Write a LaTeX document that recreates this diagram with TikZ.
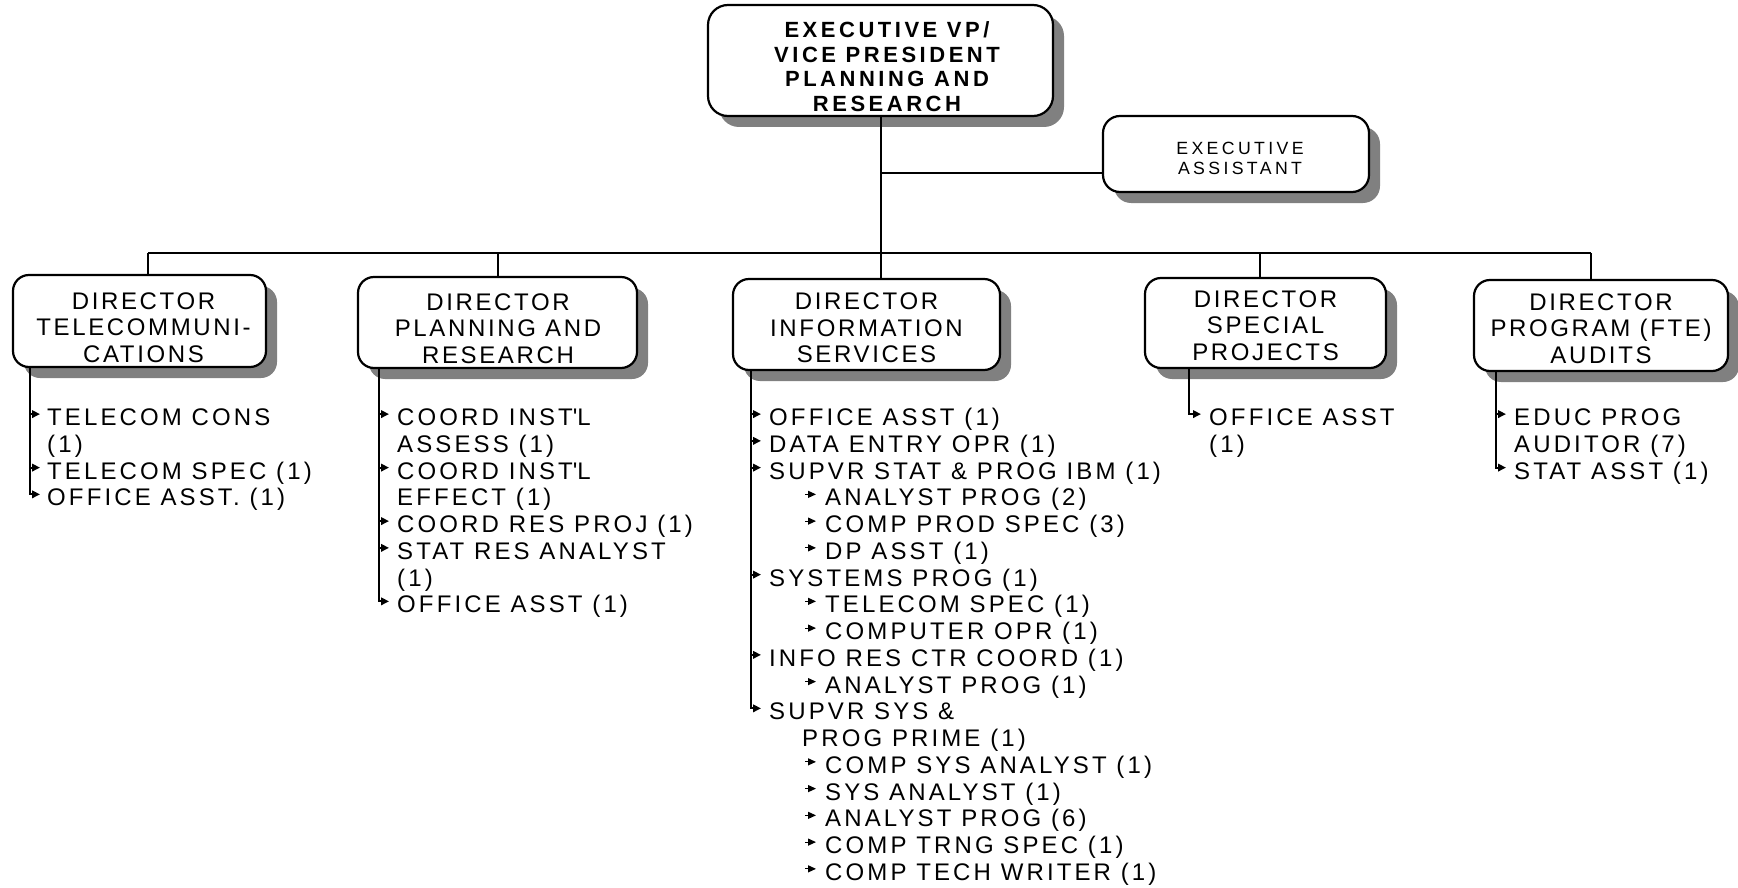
\documentclass[tikz,border=0pt]{standalone}
\usepackage{fontspec}
\setmainfont{Liberation Sans}
\newfontfamily\orgfont[LetterSpace=11]{Liberation Sans}
\newfontfamily\itemfont[LetterSpace=13]{Liberation Sans}
\newfontfamily\vpfont[LetterSpace=16]{Liberation Sans}
\newfontfamily\eafont[LetterSpace=19]{Liberation Sans}
\usetikzlibrary{arrows.meta,shadows}
\begin{document}
\begin{tikzpicture}[x=1pt,y=-1pt,
  conn/.style={line width=2pt},
  orgbox/.style={draw, line width=2.2pt, fill=white, rounded corners=16pt,
    inner sep=0pt,
    general shadow={fill=gray, draw=none, shadow xshift=11pt, shadow yshift=-11pt}},
  boxtext/.style={inner sep=0pt, align=center, font=\orgfont\fontsize{24}{26.3}\selectfont},
  item/.style={inner sep=0pt, anchor=base west, text height=23pt, text depth=0pt,
    font=\itemfont\fontsize{24}{26.75}\selectfont},
  tick/.style={line width=2pt, -{Triangle[length=8pt,width=7.5pt]}},
  subtick/.style={line width=1.2pt, -{Triangle[length=8pt,width=7pt]}}
]
\useasboundingbox (0,0) rectangle (1738,888);
\fill[white] (0,0) rectangle (1738,888);

% bus and trunk
\coordinate (b1) at (148,253);
\coordinate (b2) at (498,253);
\coordinate (b3) at (880.5,253);
\coordinate (b4) at (1260,253);
\coordinate (b5) at (1591,253);
\coordinate (eaj) at (880.5,173);

\node[orgbox, rounded corners=20pt, minimum width=345pt, minimum height=111pt] (vp) at (880.5,60.5) {};
\node[orgbox, rounded corners=17pt, minimum width=266pt, minimum height=76pt] (ea) at (1236,154) {};
\draw[conn] (vp.south) -- (b3);
\draw[conn] (eaj) -- (eaj -| ea.west);

\node[orgbox, minimum width=253pt, minimum height=92pt] (dtel) at (139.5,321) {};
\node[orgbox, minimum width=279pt, minimum height=91pt] (dplan) at (497.5,322.5) {};
\node[orgbox, minimum width=267pt, minimum height=91pt] (dinfo) at (866.5,324.5) {};
\node[orgbox, minimum width=241pt, minimum height=90pt] (dspec) at (1265.5,323) {};
\node[orgbox, minimum width=254pt, minimum height=91pt] (dprog) at (1601,325.5) {};

\draw[conn] (b1) -- (b5);
\draw[conn] (b1) -- (b1 |- dtel.north);
\draw[conn] (b2) -- (b2 |- dplan.north);
\draw[conn] (b3) -- (b3 |- dinfo.north);
\draw[conn] (b4) -- (b4 |- dspec.north);
\draw[conn] (b5) -- (b5 |- dprog.north);

% box titles
\node[inner sep=0pt, align=center, font=\vpfont\bfseries\fontsize{22}{24.6}\selectfont] (vpt) at (887,66.5)
  {EXECUTIVE VP/\\VICE PRESIDENT\\PLANNING AND\\RESEARCH};
\node[inner sep=0pt, align=center, font=\eafont\fontsize{17.7}{20.7}\selectfont] (eat) at (1240,158.5)
  {EXECUTIVE\\ASSISTANT};
\node[boxtext] (dtelt) at (143.5,327.5) {DIRECTOR\\TELECOMMUNI-\\CATIONS};
\node[boxtext] (dplant) at (498,328.5) {DIRECTOR\\PLANNING AND\\RESEARCH};
\node[boxtext] (dinfot) at (866.5,328) {DIRECTOR\\INFORMATION\\SERVICES};
\node[boxtext] (dspect) at (1265.5,325.5) {DIRECTOR\\SPECIAL\\PROJECTS};
\node[boxtext] (dprogt) at (1601,328.7) {DIRECTOR\\PROGRAM (FTE)\\AUDITS};

% telecommunications staff
\coordinate (tel-top) at (30,367);
\foreach \i/\txt in {0/TELECOM CONS, 1/(1), 2/TELECOM SPEC (1), 3/OFFICE ASST. (1)}
  \node[item] (tel-\i) at (47,425.6+\i*26.75) {\txt};
\foreach \i in {0,2}
  \draw[tick] (tel-\i.west -| tel-top) -- ++(10,0);
\draw[tick] (tel-top) |- ([xshift=-7pt]tel-3.west);

% planning and research staff
\coordinate (plan-top) at (379,368);
\foreach \i/\txt in {0/COORD INST\textquotesingle L, 1/ASSESS (1), 2/COORD INST\textquotesingle L, 3/EFFECT (1),
    4/COORD RES PROJ (1), 5/STAT RES ANALYST, 6/(1), 7/OFFICE ASST (1)}
  \node[item] (plan-\i) at (397,425.6+\i*26.75) {\txt};
\foreach \i in {0,2,4,5}
  \draw[tick] (plan-\i.west -| plan-top) -- ++(10,0);
\draw[tick] (plan-top) |- ([xshift=-8pt]plan-7.west);

% information services staff
\coordinate (info-top) at (751,370);
\foreach \i/\txt in {0/OFFICE ASST (1), 1/DATA ENTRY OPR (1), 2/SUPVR STAT \& PROG IBM (1),
    6/SYSTEMS PROG (1), 9/INFO RES CTR COORD (1), 11/SUPVR SYS \&}
  \node[item] (info-\i) at (769,425.6+\i*26.75) {\txt};
\node[item] (info-12) at (802,425.6+12*26.75) {PROG PRIME (1)};
\foreach \i/\txt in {3/ANALYST PROG (2), 4/COMP PROD SPEC (3), 5/DP ASST (1),
    7/TELECOM SPEC (1), 8/COMPUTER OPR (1), 10/ANALYST PROG (1),
    13/COMP SYS ANALYST (1), 14/SYS ANALYST (1), 15/ANALYST PROG (6),
    16/COMP TRNG SPEC (1), 17/COMP TECH WRITER (1)}
  {\node[item] (info-\i) at (825,425.6+\i*26.75) {\txt};
   \draw[subtick] ([xshift=-20pt]info-\i.west) -- ([xshift=-9pt]info-\i.west);}
\foreach \i in {0,1,2,6,9}
  \draw[tick] (info-\i.west -| info-top) -- ++(10,0);
\draw[tick] (info-top) |- ([xshift=-8pt]info-11.west);

% special projects staff
\coordinate (spec-top) at (1189,368);
\foreach \i/\txt in {0/OFFICE ASST, 1/(1)}
  \node[item] (spec-\i) at (1209,425.6+\i*26.75) {\txt};
\draw[tick] (spec-top) |- ([xshift=-8pt]spec-0.west);

% program audits staff
\coordinate (prog-top) at (1496,371);
\foreach \i/\txt in {0/EDUC PROG, 1/AUDITOR (7), 2/STAT ASST (1)}
  \node[item] (prog-\i) at (1514,425.6+\i*26.75) {\txt};
\draw[tick] (prog-0.west -| prog-top) -- ++(10,0);
\draw[tick] (prog-top) |- ([xshift=-8pt]prog-2.west);
\end{tikzpicture}
\end{document}
